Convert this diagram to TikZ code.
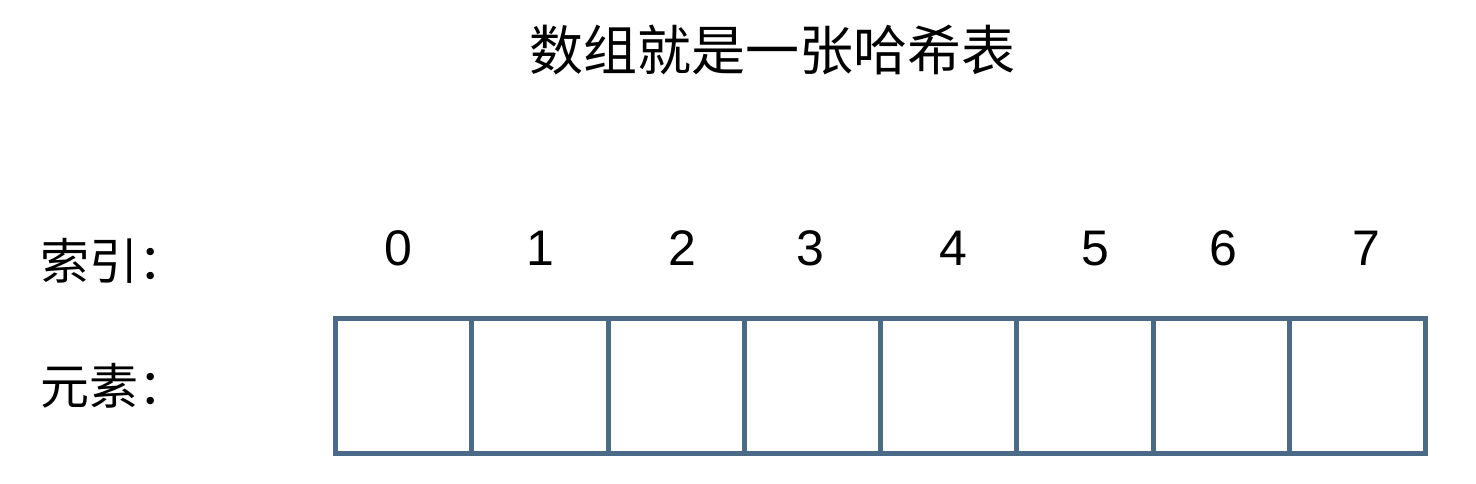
\documentclass[tikz,border=0pt]{standalone}
\usepackage{fontspec}
\setmainfont{Liberation Sans}
\newfontfamily\cjk{Noto Sans CJK SC}
\definecolor{cellblue}{RGB}{74,106,135}
\begin{document}
\begin{tikzpicture}[x=1pt,y=-1pt,
  txt/.style={inner sep=0pt, text=black},
  title/.style={txt, font=\cjk\fontsize{54}{60}\selectfont},
  lab/.style={txt, anchor=west, font=\cjk\fontsize{49}{56}\selectfont},
  idx/.style={txt, font=\fontsize{50}{56}\selectfont},
  cell/.style={draw=cellblue, line width=5pt, minimum width=136.25pt, minimum height=135pt, inner sep=0pt, outer sep=0pt}]
\useasboundingbox (0,0) rectangle (1476,484);
\node[title] (t) at (772,50) {数组就是一张哈希表};
\node[lab] (li) at (40,261) {索引：};
\node[lab] (le) at (40,386) {元素：};
\foreach \i/\xx in {0/398.5,1/540,2/682,3/810,4/953,5/1095,6/1223,7/1366}{
  \node[idx] (n\i) at (\xx,248.5) {\i};
}
\foreach \i in {0,...,7}{
  \node[cell] (c\i) at ({335.5+136.25*(\i+0.5)},385.5) {};
}
\end{tikzpicture}
\end{document}
